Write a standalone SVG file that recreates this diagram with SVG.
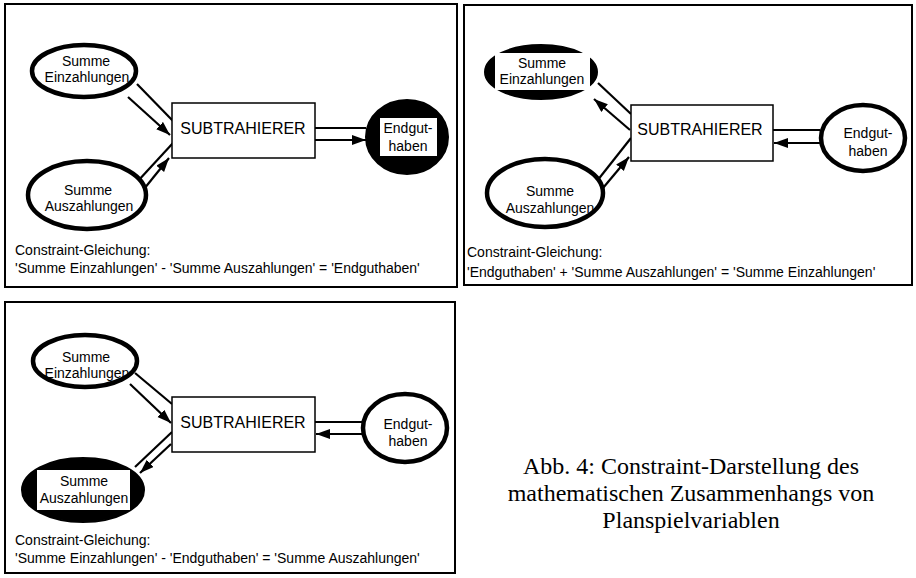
<svg xmlns="http://www.w3.org/2000/svg" width="916" height="578" viewBox="0 0 916 578">
<style>
.frame{fill:none;stroke:#000;stroke-width:2}
.ell{fill:#fff;stroke:#000;stroke-width:4.5}
.blk{fill:#000;stroke:#000;stroke-width:2}
.win{fill:#fff;stroke:none}
.box{fill:#fff;stroke:#000;stroke-width:1.5}
.lbl{font-family:"Liberation Sans",Arial,sans-serif;font-size:14px;fill:#000;text-anchor:middle}
.big{font-family:"Liberation Sans",Arial,sans-serif;font-size:16px;fill:#000;text-anchor:middle}
.eq{font-family:"Liberation Sans",Arial,sans-serif;font-size:14px;fill:#000}
.cap{font-family:"Liberation Serif","Times New Roman",serif;font-size:24px;fill:#000;text-anchor:middle}
.ln{stroke:#000;stroke-width:2.2;fill:none}
.ar{stroke:#000;stroke-width:2.2;fill:none;marker-end:url(#ah)}
</style>
<defs>
<marker id="ah" markerWidth="16" markerHeight="12" refX="14" refY="5" orient="auto" markerUnits="userSpaceOnUse">
<path d="M0,0 L14,5 L0,10 z" fill="#000"/>
</marker>
</defs>
<rect width="916" height="578" fill="#fff"/>

<!-- Panel 1 -->
<g id="panel1">
<rect class="frame" x="5" y="4" width="452" height="283"/>
<g id="p1-connectors">
<line class="ln" x1="137" y1="84" x2="173" y2="121"/>
<line class="ar" x1="128" y1="97" x2="170" y2="135"/>
<line class="ln" x1="137" y1="182" x2="173" y2="143"/>
<line class="ar" x1="144" y1="189" x2="169" y2="158"/>
<line class="ln" x1="315" y1="128" x2="366" y2="128"/>
<line class="ar" x1="315" y1="140" x2="366" y2="140"/>
</g>
<g id="p1-einz">
<ellipse class="ell" cx="84" cy="71" rx="52" ry="26"/>
<text class="lbl" x="86" y="66">Summe</text>
<text class="lbl" x="87" y="82">Einzahlungen</text>
</g>
<g id="p1-ausz">
<ellipse class="ell" cx="87" cy="195" rx="59" ry="34"/>
<text class="lbl" x="88" y="195">Summe</text>
<text class="lbl" x="89" y="211">Auszahlungen</text>
</g>
<g id="p1-sub">
<rect class="box" x="172" y="103" width="143" height="55"/>
<text class="big" x="243" y="134">SUBTRAHIERER</text>
</g>
<g id="p1-end">
<ellipse class="blk" cx="407" cy="137" rx="41" ry="37"/>
<rect class="win" x="380" y="118" width="57" height="38"/>
<text class="lbl" x="408" y="133">Endgut-</text>
<text class="lbl" x="408" y="151">haben</text>
</g>
<text class="eq" x="15" y="255">Constraint-Gleichung:</text>
<text class="eq" x="15" y="273">'Summe Einzahlungen' - 'Summe Auszahlungen' = 'Endguthaben'</text>
</g>

<!-- Panel 2 -->
<g id="panel2">
<rect class="frame" x="464" y="5" width="448" height="280"/>
<g id="p2-connectors">
<line class="ln" x1="598" y1="83" x2="631" y2="114"/>
<line class="ar" x1="630" y1="130" x2="594" y2="99"/>
<line class="ln" x1="597" y1="181" x2="631" y2="138"/>
<line class="ar" x1="603" y1="188" x2="629" y2="157"/>
<line class="ln" x1="773" y1="130" x2="820" y2="130"/>
<line class="ar" x1="820" y1="143" x2="774" y2="143"/>
</g>
<g id="p2-einz">
<ellipse class="blk" cx="541" cy="72" rx="56" ry="27"/>
<rect class="win" x="495" y="53" width="95" height="37"/>
<text class="lbl" x="542" y="68">Summe</text>
<text class="lbl" x="542" y="84">Einzahlungen</text>
</g>
<g id="p2-ausz">
<ellipse class="ell" cx="545" cy="193" rx="58" ry="34"/>
<text class="lbl" x="550" y="196">Summe</text>
<text class="lbl" x="550" y="213">Auszahlungen</text>
</g>
<g id="p2-sub">
<rect class="box" x="631" y="105" width="142" height="56"/>
<text class="big" x="700" y="135">SUBTRAHIERER</text>
</g>
<g id="p2-end">
<ellipse class="ell" cx="863" cy="138" rx="42" ry="33"/>
<text class="lbl" x="868" y="138">Endgut-</text>
<text class="lbl" x="868" y="156">haben</text>
</g>
<text class="eq" x="467" y="257">Constraint-Gleichung:</text>
<text class="eq" x="467" y="277">'Endguthaben' + 'Summe Auszahlungen' = 'Summe Einzahlungen'</text>
</g>

<!-- Panel 3 -->
<g id="panel3">
<rect class="frame" x="5" y="302" width="450" height="271"/>
<g id="p3-connectors">
<line class="ln" x1="135" y1="373" x2="172" y2="404"/>
<line class="ar" x1="130" y1="384" x2="171" y2="423"/>
<line class="ln" x1="172" y1="432" x2="135" y2="467"/>
<line class="ar" x1="171" y1="444" x2="140" y2="473"/>
<line class="ln" x1="315" y1="422" x2="362" y2="422"/>
<line class="ar" x1="362" y1="434" x2="316" y2="434"/>
</g>
<g id="p3-einz">
<ellipse class="ell" cx="85" cy="361" rx="52" ry="26"/>
<text class="lbl" x="86" y="362">Summe</text>
<text class="lbl" x="87" y="378">Einzahlungen</text>
</g>
<g id="p3-ausz">
<ellipse class="blk" cx="83" cy="490" rx="61" ry="32"/>
<rect class="win" x="37" y="470" width="93" height="40"/>
<text class="lbl" x="84" y="486">Summe</text>
<text class="lbl" x="84" y="503">Auszahlungen</text>
</g>
<g id="p3-sub">
<rect class="box" x="172" y="397" width="143" height="55"/>
<text class="big" x="243" y="428">SUBTRAHIERER</text>
</g>
<g id="p3-end">
<ellipse class="ell" cx="405" cy="428" rx="42" ry="34"/>
<text class="lbl" x="408" y="429">Endgut-</text>
<text class="lbl" x="408" y="446">haben</text>
</g>
<text class="eq" x="15" y="545">Constraint-Gleichung:</text>
<text class="eq" x="15" y="563">'Summe Einzahlungen' - 'Endguthaben' = 'Summe Auszahlungen'</text>
</g>

<!-- Caption -->
<g id="caption">
<text class="cap" x="691" y="474">Abb. 4: Constraint-Darstellung des</text>
<text class="cap" x="691" y="501">mathematischen Zusammenhangs von</text>
<text class="cap" x="691" y="528">Planspielvariablen</text>
</g>
</svg>
